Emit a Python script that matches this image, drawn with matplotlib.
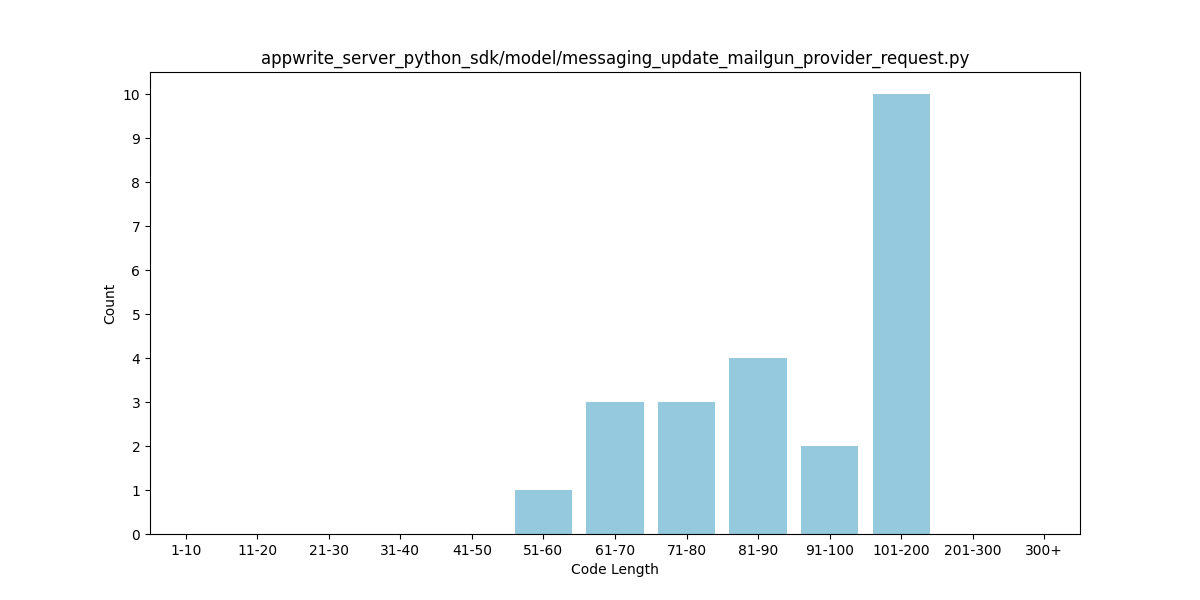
import matplotlib
matplotlib.use("Agg")
import matplotlib.pyplot as plt
import seaborn as sns

categories = ["1-10", "11-20", "21-30", "31-40", "41-50", "51-60", "61-70",
              "71-80", "81-90", "91-100", "101-200", "201-300", "300+"]
counts = [0, 0, 0, 0, 0, 1, 3, 3, 4, 2, 10, 0, 0]

fig, ax = plt.subplots(figsize=(12, 6), dpi=100)
color = sns.desaturate("skyblue", 0.75)
ax.bar(categories, counts, width=0.8, color=color)
ax.set_xlim(-0.5, len(categories) - 0.5)
ax.set_yticks(range(0, 11))
ax.set_xlabel("Code Length")
ax.set_ylabel("Count")
ax.set_title("appwrite_server_python_sdk/model/messaging_update_mailgun_provider_request.py")
fig.savefig("out.png", dpi=100)
